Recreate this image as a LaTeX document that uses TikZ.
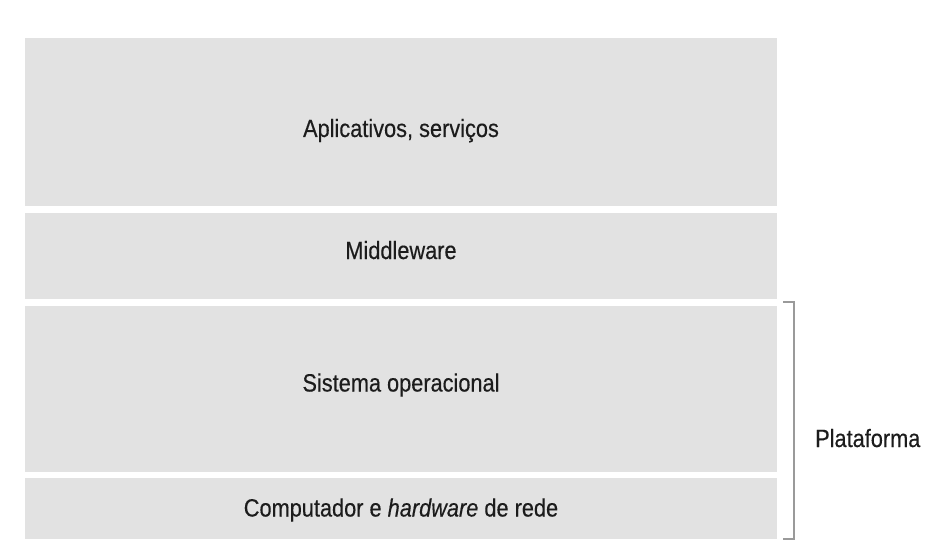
\documentclass[tikz,border=0pt]{standalone}
\usepackage{fontspec}
\setmainfont{Liberation Sans}[FakeStretch=0.87,FakeBold=0.35]
\begin{document}
\begin{tikzpicture}[x=1pt,y=-1pt,
  layer/.style={fill=layergray,draw=none,inner sep=0pt,anchor=north west,minimum width=752pt},
  layertext/.style={anchor=base,inner sep=0pt,text=textdark,font=\fontsize{25}{29}\selectfont},
  bracketline/.style={draw=bracketgray,line width=1.3pt}]
\definecolor{layergray}{HTML}{E2E2E2}
\definecolor{textdark}{HTML}{1C1C1C}
\definecolor{bracketgray}{HTML}{9A9A9A}
\useasboundingbox (0,0) rectangle (947,545);

% stacked layers
\node[layer,minimum height=168pt]   (apps) at (25,38)    {};
\node[layer,minimum height=86.3pt]  (mid)  at (25,212.7) {};
\node[layer,minimum height=165.7pt] (os)   at (25,306)   {};
\node[layer,minimum height=60.8pt]  (hw)   at (25,477.7) {};

% layer captions
\node[layertext] (tapps) at (401,137)   {Aplicativos, serviços};
\node[layertext] (tmid)  at (401,259)   {Middleware};
\node[layertext] (tos)   at (401,391.5) {Sistema operacional};
\node[layertext] (thw)   at (401,516.5) {Computador e \textit{hardware} de rede};

% bracket grouping the platform layers
\coordinate (btop) at (783,302);
\coordinate (bbot) at (783,539);
\draw[bracketline] (btop) -- ++(11,0) |- (bbot);
\node[layertext,anchor=base west] (plat) at (815,447) {Plataforma};
\end{tikzpicture}
\end{document}
